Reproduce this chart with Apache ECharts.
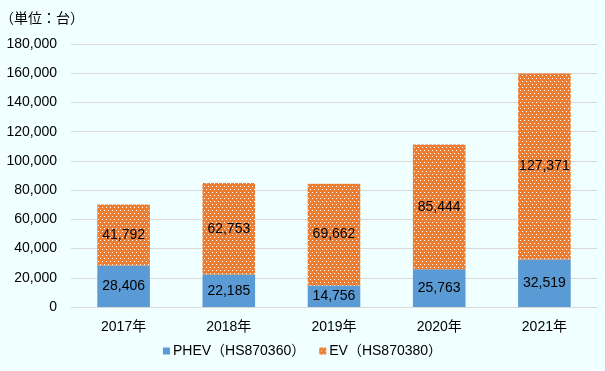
<!DOCTYPE html>
<html>
<head>
<meta charset="utf-8">
<script src="https://cdn.jsdelivr.net/npm/echarts@6/dist/echarts.min.js"></script>
<style>
html,body{margin:0;padding:0;background:#F0FFFF;}
#main{width:605px;height:371px;}
</style>
</head>
<body>
<div id="main"></div>
<script>
const categories = ['2017年', '2018年', '2019年', '2020年', '2021年'];
const phevValues = [28406, 22185, 14756, 25763, 32519];
const evValues = [41792, 62753, 69662, 85444, 127371];
const seriesNames = ['PHEV（HS870360）', 'EV（HS870380）'];
const unitLabel = '（単位：台）';

const FONT = '"Liberation Sans", "Noto Sans CJK JP", sans-serif';

// dotted orange pattern
const tile = document.createElement('canvas');
tile.width = 4; tile.height = 6;
const tctx = tile.getContext('2d');
tctx.fillStyle = '#ED7D31';
tctx.fillRect(0, 0, 4, 6);
tctx.fillStyle = '#FFFFFF';
tctx.fillRect(0, 0, 1, 1);
tctx.fillRect(2, 3, 1, 1);

const chart = echarts.init(document.getElementById('main'), null, {renderer: 'canvas'});
const labelFmt = p => p.value.toLocaleString('en-US');
chart.setOption({
  backgroundColor: '#F0FFFF',
  animation: false,
  textStyle: {fontFamily: FONT},
  title: {
    text: unitLabel,
    left: -5, top: 7,
    textStyle: {fontSize: 14, fontWeight: 'normal', color: '#000', fontFamily: FONT}
  },
  grid: {left: 71, right: 8, top: 44, bottom: 64},
  legend: {
    bottom: 8,
    left: 'center',
    itemWidth: 7, itemHeight: 7,
    itemGap: 14,
    icon: 'rect',
    textStyle: {fontSize: 14, color: '#000', fontFamily: FONT, padding: [0, 0, 0, -2]},
    data: seriesNames
  },
  xAxis: {
    type: 'category',
    data: categories,
    axisLine: {lineStyle: {color: '#D9D9D9'}},
    axisTick: {show: false},
    axisLabel: {color: '#000', fontSize: 14, margin: 13, fontFamily: FONT}
  },
  yAxis: {
    type: 'value',
    min: 0, max: 180000, interval: 20000,
    axisLine: {show: false},
    axisTick: {show: false},
    splitLine: {lineStyle: {color: '#D9D9D9'}},
    axisLabel: {
      color: '#000', fontSize: 14, margin: 14, fontFamily: FONT,
      formatter: v => v.toLocaleString('en-US')
    }
  },
  series: [
    {
      name: seriesNames[0], type: 'bar', stack: 'total', barWidth: '50%',
      data: phevValues,
      itemStyle: {color: '#5B9BD5'},
      label: {show: true, position: 'inside', color: '#000', fontSize: 14, fontFamily: FONT, formatter: labelFmt}
    },
    {
      name: seriesNames[1], type: 'bar', stack: 'total', barWidth: '50%',
      data: evValues,
      itemStyle: {color: {image: tile, repeat: 'repeat'}},
      label: {show: true, position: 'inside', color: '#000', fontSize: 14, fontFamily: FONT, formatter: labelFmt}
    }
  ]
});
</script>
</body>
</html>
